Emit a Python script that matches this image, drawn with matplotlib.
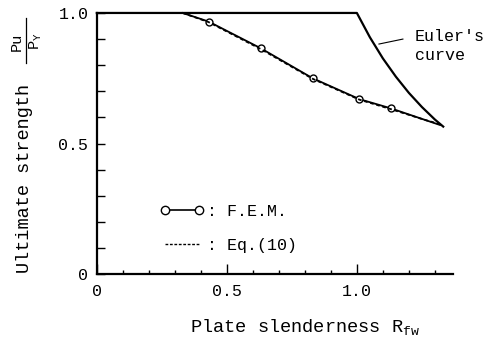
import matplotlib
matplotlib.use("Agg")
import matplotlib.pyplot as plt
from matplotlib.lines import Line2D
from matplotlib.ticker import MultipleLocator

plt.rcParams['font.family'] = ['Liberation Mono', 'DejaVu Sans Mono']
plt.rcParams['mathtext.fontset'] = 'custom'
plt.rcParams['mathtext.rm'] = 'Liberation Mono'

# yield plateau + Euler's curve
euler_r = [0.0, 1.0, 1.05, 1.1, 1.15, 1.2, 1.25, 1.3, 1.332]
euler_p = [1.0, 1.0, 0.907, 0.826, 0.756, 0.694, 0.640, 0.592, 0.565]

# F.E.M. results (first and last entries are the curve ends, no marker)
fem_r = [0.33, 0.43, 0.63, 0.83, 1.01, 1.13, 1.32]
fem_p = [1.0, 0.967, 0.865, 0.750, 0.670, 0.635, 0.571]

# Eq.(10)
eq_r = [0.33, 0.43, 0.63, 0.83, 1.01, 1.13, 1.20, 1.26, 1.32]
eq_p = [1.0, 0.965, 0.862, 0.748, 0.668, 0.632, 0.610, 0.591, 0.574]

fig = plt.figure(figsize=(4.99, 3.41), dpi=100)
ax = fig.add_axes([0.194, 0.196, 0.714, 0.766])

ax.plot(euler_r, euler_p, color='black', lw=1.6, clip_on=False)
ax.plot(fem_r, fem_p, color='black', lw=1.3, marker='o', ms=5,
        mfc='white', mec='black', mew=1.0, markevery=[1, 2, 3, 4, 5], clip_on=False)
ax.plot(eq_r, eq_p, color='black', lw=1.3, ls=(0, (2, 1.5)), clip_on=False)

ax.set_xlim(0, 1.37)
ax.set_ylim(0, 1.0)
ax.spines['top'].set_visible(False)
ax.spines['right'].set_visible(False)
ax.spines['left'].set_linewidth(1.6)
ax.spines['bottom'].set_linewidth(1.6)

ax.set_xticks([0, 0.5, 1.0])
ax.set_xticklabels(['0', '0.5', '1.0'])
ax.set_yticks([0, 0.5, 1.0])
ax.set_yticklabels(['0', '0.5', '1.0'])
ax.xaxis.set_minor_locator(MultipleLocator(0.1))
ax.yaxis.set_minor_locator(MultipleLocator(0.1))
ax.tick_params(axis='both', which='both', direction='in', width=1.0, labelsize=12)
ax.tick_params(axis='x', which='major', length=7, pad=7)
ax.tick_params(axis='x', which='minor', length=3)
ax.tick_params(axis='y', which='both', length=6, pad=6)

# legend with "handle : label" layout
fem_handle = Line2D([], [], color='black', lw=1.2, marker='o', ms=6,
                    mfc='white', mec='black', mew=1.0)
eq_handle = Line2D([], [], color='black', lw=1.0, ls=(0, (2, 1.2)))
ax.legend([fem_handle, eq_handle], [': F.E.M.', ': Eq.(10)'], frameon=False,
          numpoints=2, handlelength=2.6, handletextpad=0.2, labelspacing=1.1,
          fontsize=12, loc='lower left', bbox_to_anchor=(0.136, 0.025))

# Euler's curve annotation
ax.plot([1.085, 1.177], [0.881, 0.90], color='black', lw=0.8, clip_on=False)
ax.text(1.223, 0.874, "Euler's\ncurve", fontsize=12, ha='left', va='center',
        linespacing=1.3, clip_on=False)

# axis labels
fig.text(0.05, 0.476, 'Ultimate strength', rotation=90, fontsize=13.4,
         ha='center', va='center')
fig.text(0.033, 0.878, 'Pu', rotation=90, fontsize=11, ha='center', va='center')
fig.text(0.072, 0.878, r'P$_\mathregular{Y}$', rotation=90, fontsize=11,
         ha='center', va='center')
fig.add_artist(Line2D([0.053, 0.053], [0.815, 0.948], color='black', lw=0.9))
fig.text(0.381, 0.023, r'Plate slenderness R$_\mathregular{fw}$', fontsize=13.4,
         ha='left', va='baseline')

fig.savefig('out.png', dpi=100)
